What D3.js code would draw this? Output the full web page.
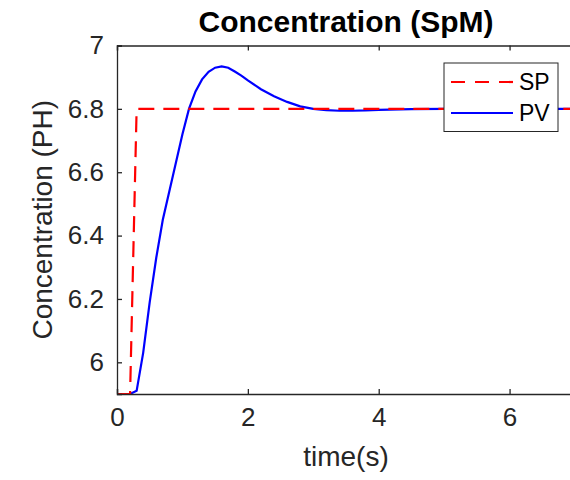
<!DOCTYPE html>
<html>
<head>
<meta charset="utf-8">
<script src="https://cdn.jsdelivr.net/npm/d3@7"></script>
<style>
  body { margin: 0; background: #fff; }
  svg { display: block; font-family: Arial, "Liberation Sans", Helvetica, sans-serif; }
</style>
</head>
<body>
<svg id="chart" width="570" height="480"></svg>
<script>
// values
const spTime = [0, 0.1, 0.2, 0.3, 7];
const spValue = [5.9, 5.9, 5.9, 6.8, 6.8];

const pvTime = [0, 0.1, 0.2, 0.3, 0.4, 0.5, 0.6, 0.7, 0.8, 0.9, 1.0, 1.1, 1.2, 1.3, 1.4, 1.5, 1.6, 1.7, 1.8, 1.9, 2.0,
    2.2, 2.4, 2.6, 2.8, 3.0, 3.2, 3.4, 3.6, 3.8, 4.0, 4.5, 5.0, 5.5, 6.0, 7.0];
const pvValue = [5.9, 5.9, 5.9, 5.91, 6.03, 6.19, 6.33, 6.45, 6.54, 6.63, 6.72, 6.80, 6.855, 6.893, 6.917, 6.93, 6.934, 6.93, 6.918, 6.905, 6.89,
    6.862, 6.84, 6.822, 6.808, 6.80, 6.796, 6.794, 6.794, 6.795, 6.797, 6.799, 6.80, 6.80, 6.80, 6.80];

const xTicks = [0, 2, 4, 6];
const yTicks = [6, 6.2, 6.4, 6.6, 6.8, 7];
const legendLabels = ['SP', 'PV'];

const ink = '#262626';
const margin = { top: 45.5, left: 117 },
    width = 458,
    height = 348.5;

const svg = d3.select('#chart');
const g = svg.append('g').attr('transform', `translate(${margin.left},${margin.top})`);

const x = d3.scaleLinear().domain([0, 7]).range([0, width]);
const y = d3.scaleLinear().domain([5.9, 7]).range([height, 0]);

// curves
const sp = spTime.map((t, i) => ({ t, v: spValue[i] }));
const pv = pvTime.map((t, i) => ({ t, v: pvValue[i] }));
const line = d3.line().x((d) => x(d.t)).y((d) => y(d.v));

g.append('path').datum(pv)
    .attr('d', line)
    .attr('fill', 'none')
    .attr('stroke', '#0000ff')
    .attr('stroke-width', 2.2);

g.append('path').datum(sp)
    .attr('d', line)
    .attr('fill', 'none')
    .attr('stroke', '#ff0000')
    .attr('stroke-width', 2.2)
    .attr('stroke-dasharray', '16,9');

// axes, MATLAB style: ticks inside, box on
const fmt = (d) => d3.format('')(d);
const xAxis = d3.axisBottom(x).tickValues(xTicks).tickSize(-5).tickPadding(14).tickFormat(fmt);
const xTop = d3.axisTop(x).tickValues(xTicks).tickSize(-5).tickFormat('');
const yAxis = d3.axisLeft(y).tickValues(yTicks).tickSize(-5).tickPadding(13).tickFormat(fmt);
const yRight = d3.axisRight(y).tickValues(yTicks).tickSize(-5).tickFormat('');

g.append('g').attr('transform', `translate(0,${height})`).call(xAxis);
g.append('g').call(xTop);
g.append('g').call(yAxis);
g.append('g').attr('transform', `translate(${width},0)`).call(yRight);

g.selectAll('.domain, .tick line').attr('stroke', ink).attr('stroke-width', 1.3);
g.selectAll('.tick text').attr('fill', ink).style('font-size', '26px');

// labels
svg.append('text')
    .attr('x', margin.left + width / 2)
    .attr('y', 32)
    .attr('text-anchor', 'middle')
    .style('font-size', '30px')
    .style('font-weight', 'bold')
    .attr('fill', '#000')
    .text('Concentration (SpM)');

svg.append('text')
    .attr('x', margin.left + width / 2)
    .attr('y', 466)
    .attr('text-anchor', 'middle')
    .style('font-size', '28px')
    .attr('fill', ink)
    .text('time(s)');

svg.append('text')
    .attr('transform', `translate(52,${margin.top + height / 2}) rotate(-90)`)
    .attr('text-anchor', 'middle')
    .style('font-size', '28px')
    .attr('fill', ink)
    .text('Concentration (PH)');

// legend
const legend = svg.append('g').attr('transform', 'translate(444,63)');
legend.append('rect')
    .attr('width', 114).attr('height', 68.5)
    .attr('fill', '#fff')
    .attr('stroke', ink).attr('stroke-width', 1);

const rows = legend.selectAll('g.row')
    .data(legendLabels)
    .join('g')
    .attr('class', 'row')
    .attr('transform', (d, i) => `translate(0,${19 + i * 31})`);

rows.append('line')
    .attr('x1', 7).attr('x2', 69)
    .attr('stroke', (d, i) => (i == 0 ? '#ff0000' : '#0000ff'))
    .attr('stroke-width', 2.2)
    .attr('stroke-dasharray', (d, i) => (i == 0 ? '14,10' : null));

rows.append('text')
    .attr('x', 75)
    .attr('dy', '0.35em')
    .style('font-size', '23px')
    .attr('fill', '#000')
    .text((d) => d);
</script>
</body>
</html>
